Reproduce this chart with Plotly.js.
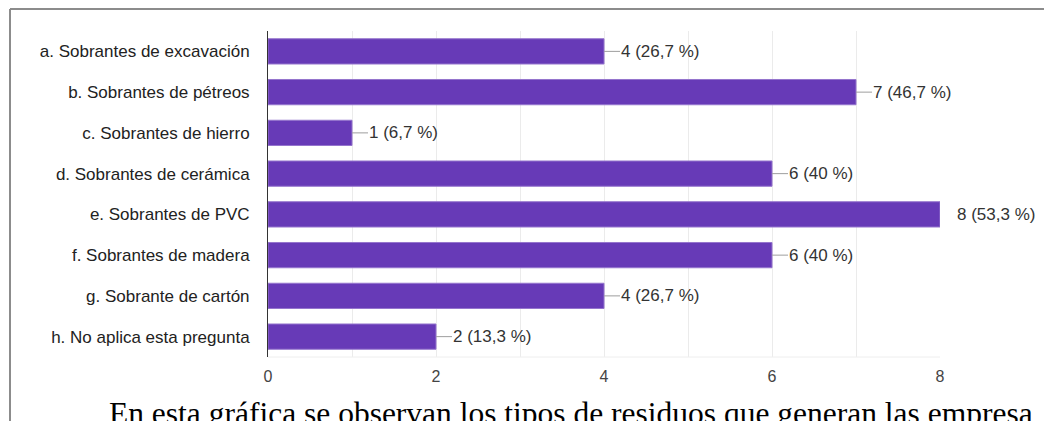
<!DOCTYPE html>
<html><head><meta charset="utf-8">
<script src="https://cdn.plot.ly/plotly-3.0.1.min.js"></script>
<style>html,body{margin:0;padding:0;background:#fff;overflow:hidden}#c{width:1044px;height:421px}</style>
</head><body><div id="c"></div>
<script>
const categories = [
  "a. Sobrantes de excavación",
  "b. Sobrantes de pétreos",
  "c. Sobrantes de hierro",
  "d. Sobrantes de cerámica",
  "e. Sobrantes de PVC",
  "f. Sobrantes de madera",
  "g. Sobrante de cartón",
  "h. No aplica esta pregunta"
];
const counts = [4, 7, 1, 6, 8, 6, 4, 2];
const percents = ["26,7 %", "46,7 %", "6,7 %", "40 %", "53,3 %", "40 %", "26,7 %", "13,3 %"];
const xTicks = [0, 2, 4, 6, 8];
const caption = "En esta gráfica se observan los tipos de residuos que generan las empresa";

const W = 1044, H = 421;
const L = 268, R = 104, T = 31, B = 64;
const pw = W - L - R, ph = H - T - B;
const px2x = p => (p - L) / pw;
const py2y = p => (H - B - p) / ph;
const xMax = 8;

const annotations = categories.map((c, i) => ({
  x: counts[i], y: c, xref: 'x', yref: 'y',
  text: counts[i] + ' (' + percents[i] + ')',
  showarrow: true, arrowhead: 0, arrowwidth: 1,
  arrowcolor: counts[i] >= xMax ? 'rgba(0,0,0,0)' : '#9e9e9e',
  ax: 16, ay: 0, axref: 'pixel', ayref: 'pixel',
  xanchor: 'left', yanchor: 'middle', standoff: 0, borderpad: 0,
  font: {family: 'Liberation Sans, Arial, sans-serif', size: 17, color: '#333'}
}));
annotations.push({
  xref: 'paper', yref: 'paper', x: px2x(107), y: py2y(394),
  xanchor: 'left', yanchor: 'top', showarrow: false, text: caption,
  font: {family: 'Liberation Serif, Times New Roman, serif', size: 31.5, color: '#000'}
});

const shapes = [
  {type: 'line', xref: 'paper', yref: 'paper', x0: px2x(10), x1: px2x(1044), y0: py2y(9), y1: py2y(9), line: {color: '#8c8c8c', width: 2}},
  {type: 'line', xref: 'paper', yref: 'paper', x0: px2x(10), x1: px2x(10), y0: py2y(9), y1: py2y(421), line: {color: '#8c8c8c', width: 2}},
  {type: 'line', xref: 'paper', yref: 'paper', x0: 0, x1: 1, y0: 0, y1: 0, line: {color: '#eeeeee', width: 1}}
];

const trace = {
  type: 'bar', orientation: 'h', x: counts, y: categories,
  marker: {color: '#673ab7', line: {color: '#9575cd', width: 1}},
  hoverinfo: 'none'
};

const layout = {
  width: W, height: H,
  margin: {l: L, r: R, t: T, b: B, pad: 0},
  paper_bgcolor: '#fff', plot_bgcolor: '#fff',
  showlegend: false, bargap: 0.38,
  xaxis: {
    range: [0, xMax], tickvals: xTicks, ticktext: xTicks.map(String),
    showgrid: true, gridcolor: '#ebebeb', gridwidth: 1,
    minor: {dtick: 1, showgrid: true, gridcolor: '#ebebeb', gridwidth: 1},
    zeroline: false, showline: false, ticks: '', ticklabelstandoff: 8,
    tickfont: {family: 'Liberation Sans, Arial, sans-serif', size: 16, color: '#444'},
    fixedrange: true
  },
  yaxis: {
    type: 'category', autorange: 'reversed', showgrid: false, zeroline: false,
    showline: true, linecolor: '#333', linewidth: 1, ticks: '', ticklabelstandoff: 14,
    tickfont: {family: 'Liberation Sans, Arial, sans-serif', size: 17, color: '#222'},
    fixedrange: true
  },
  annotations: annotations,
  shapes: shapes
};

Plotly.newPlot('c', [trace], layout, {displayModeBar: false, staticPlot: true});
</script></body></html>
